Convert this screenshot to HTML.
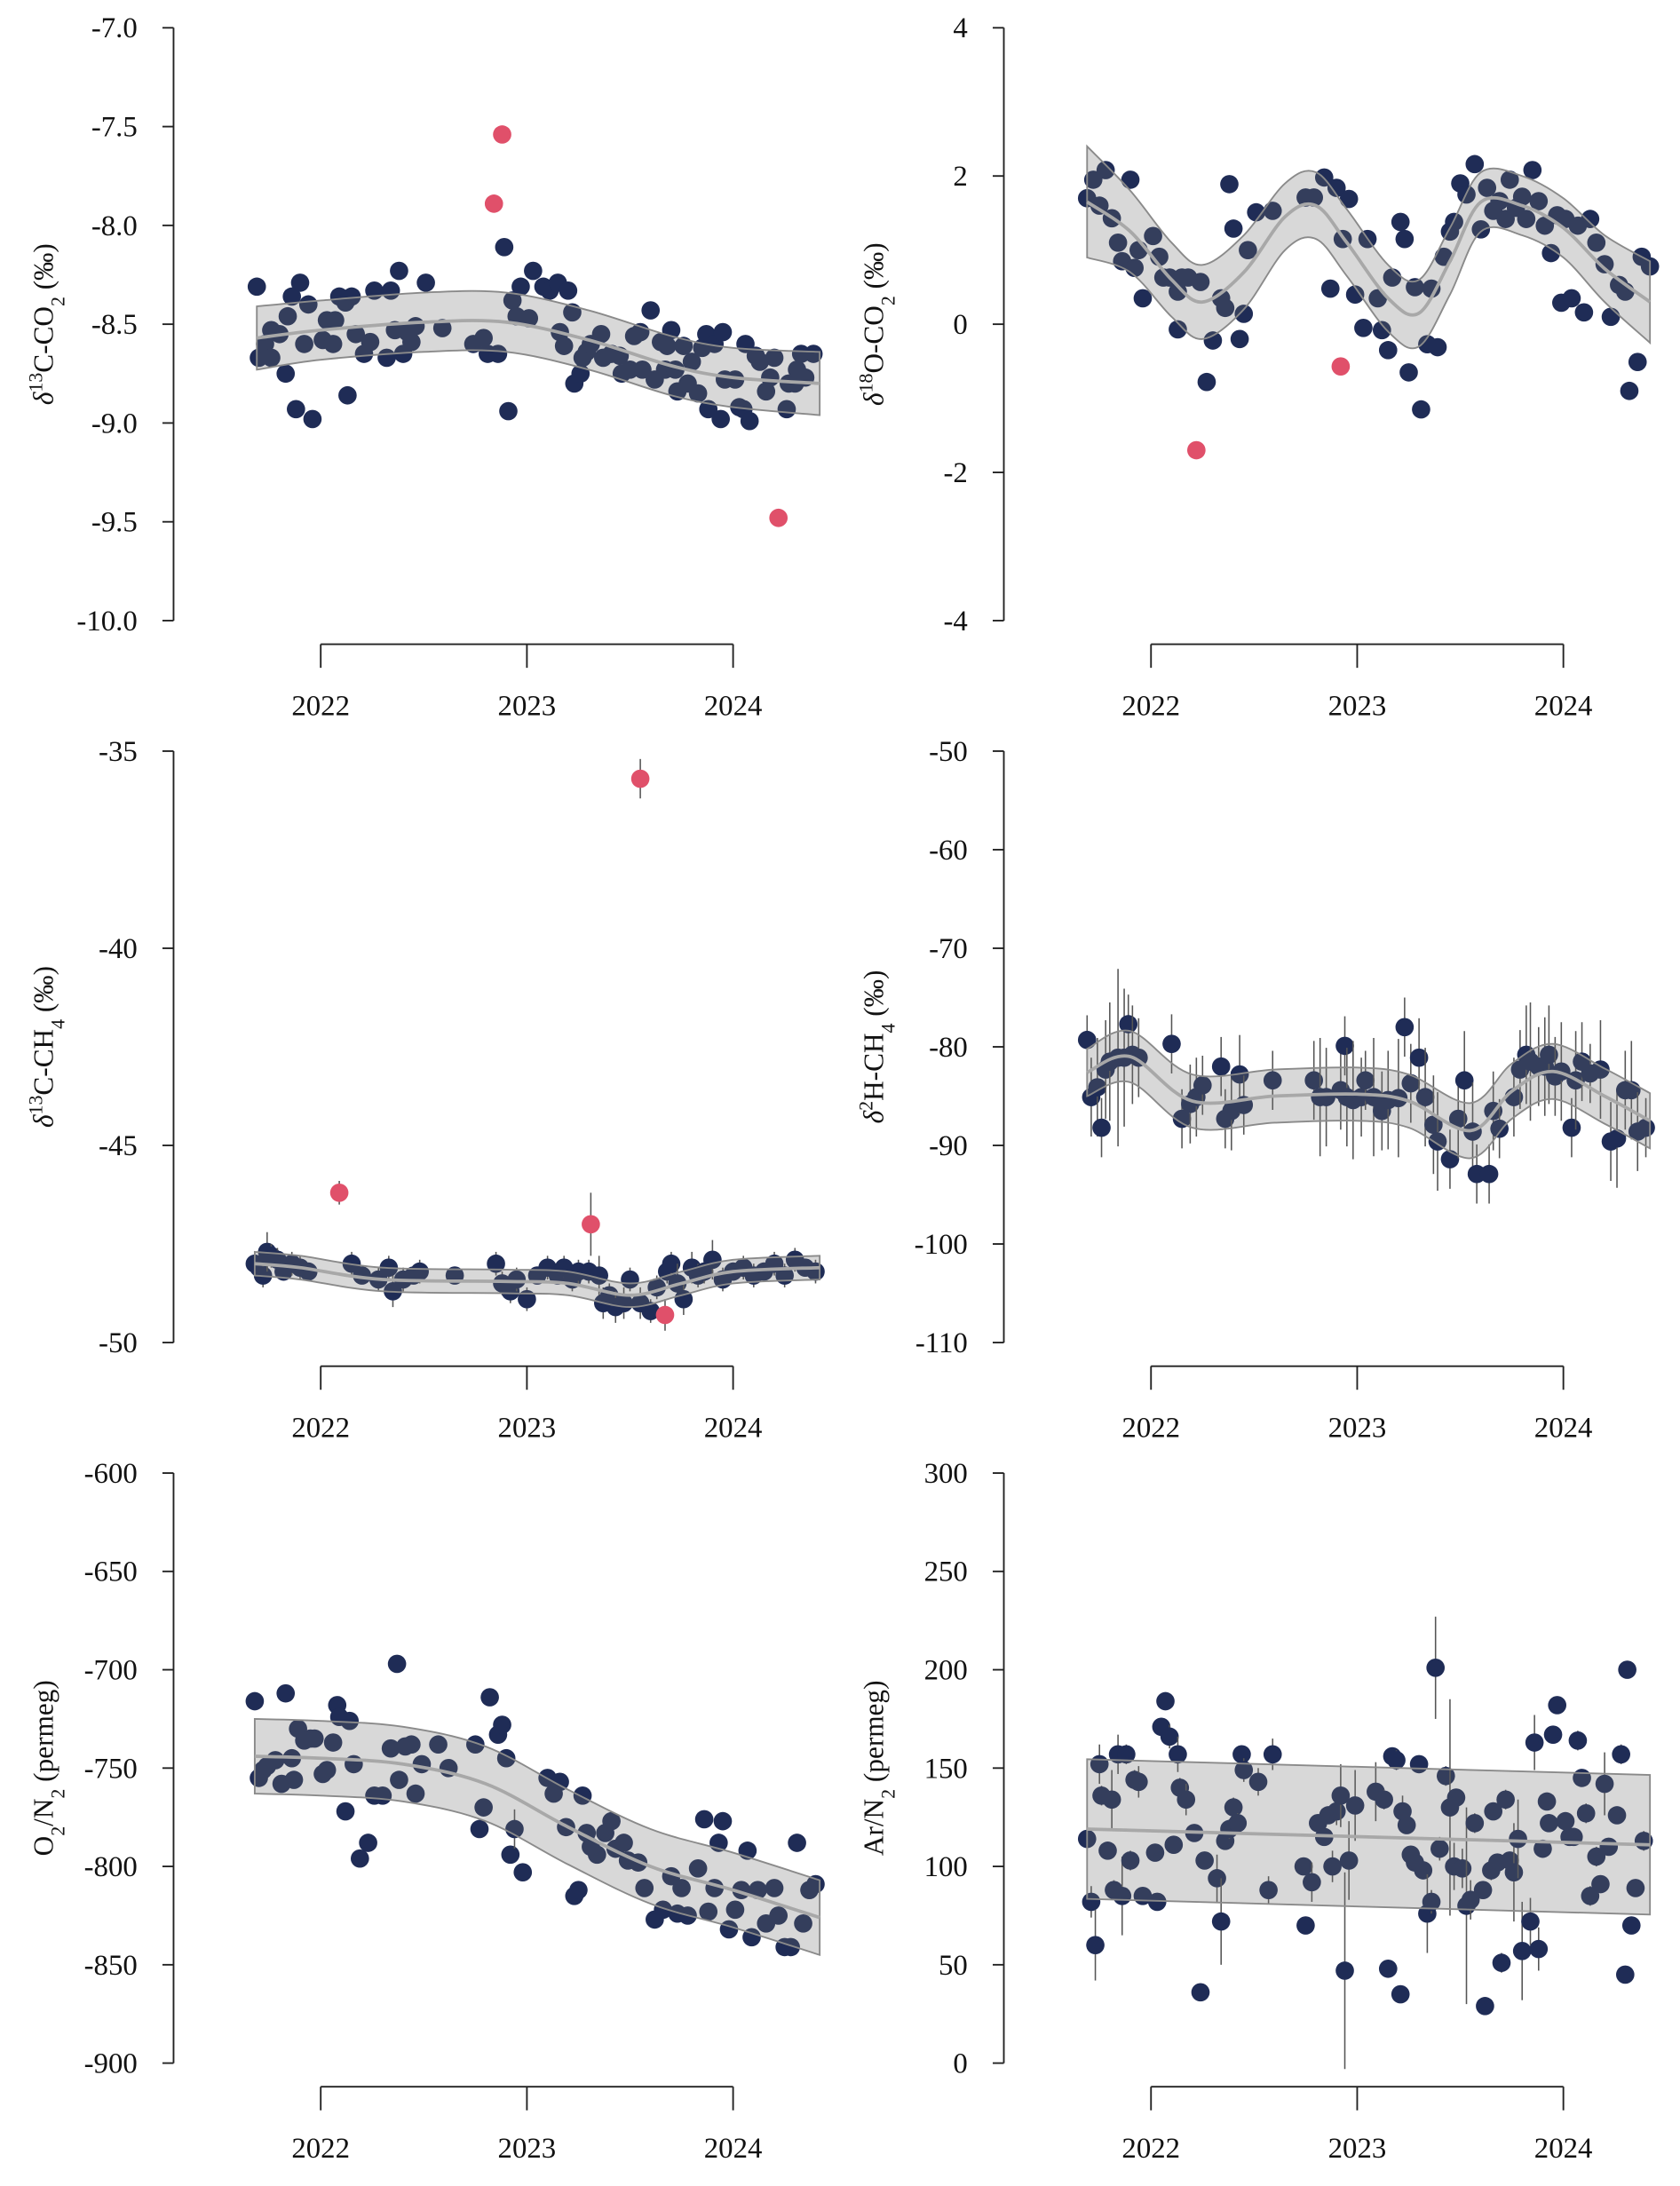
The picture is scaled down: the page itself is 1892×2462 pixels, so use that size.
<!DOCTYPE html>
<html><head><meta charset="utf-8">
<style>
html,body{margin:0;padding:0;background:#fff;}
svg{display:block;}
text{font-family:"Liberation Serif",serif;fill:#111;}
</style></head>
<body>
<svg id="fig" width="1892" height="2462" viewBox="0 0 1210 1574.5" xmlns="http://www.w3.org/2000/svg"></svg>
<script>
// ---------- Panel 1: d13C-CO2 ----------
const p1Years=[2021.69,2021.70,2021.73,2021.76,2021.76,2021.80,2021.83,2021.84,2021.86,2021.88,2021.90,2021.92,2021.94,2021.96,2022.01,2022.03,2022.06,2022.07,2022.09,2022.12,2022.13,2022.15,2022.17,2022.21,2022.24,2022.26,2022.32,2022.34,2022.36,2022.38,2022.40,2022.42,2022.44,2022.46,2022.51,2022.59,2022.74,2022.79,2022.81,2022.86,2022.89,2022.91,2022.93,2022.95,2022.97,2023.01,2023.03,2023.08,2023.11,2023.15,2023.20,2023.22,2023.16,2023.18,2023.23,2023.26,2023.27,2023.29,2023.31,2023.36,2023.37,2023.41,2023.45,2023.46,2023.50,2023.52,2023.55,2023.56,2023.60,2023.62,2023.65,2023.67,2023.68,2023.70,2023.72,2023.73,2023.76,2023.78,2023.80,2023.83,2023.85,2023.87,2023.88,2023.91,2023.94,2023.95,2023.96,2024.01,2024.03,2024.05,2024.06,2024.08,2024.11,2024.13,2024.16,2024.18,2024.20,2024.26,2024.27,2024.30,2024.31,2024.33,2024.35,2024.39];
const p1Vals=[-8.31,-8.67,-8.60,-8.67,-8.53,-8.55,-8.75,-8.46,-8.36,-8.93,-8.29,-8.60,-8.40,-8.98,-8.58,-8.48,-8.60,-8.48,-8.36,-8.39,-8.86,-8.36,-8.55,-8.65,-8.59,-8.33,-8.67,-8.33,-8.53,-8.23,-8.65,-8.54,-8.59,-8.51,-8.29,-8.52,-8.60,-8.57,-8.65,-8.65,-8.11,-8.94,-8.38,-8.46,-8.31,-8.47,-8.23,-8.31,-8.33,-8.29,-8.33,-8.44,-8.54,-8.61,-8.80,-8.75,-8.67,-8.64,-8.60,-8.55,-8.67,-8.65,-8.66,-8.75,-8.73,-8.56,-8.54,-8.73,-8.43,-8.78,-8.59,-8.73,-8.61,-8.53,-8.73,-8.84,-8.61,-8.80,-8.69,-8.85,-8.62,-8.55,-8.93,-8.60,-8.98,-8.54,-8.78,-8.78,-8.92,-8.93,-8.60,-8.99,-8.66,-8.69,-8.84,-8.77,-8.67,-8.93,-8.80,-8.80,-8.73,-8.65,-8.77,-8.65];
const p1OutYears=[2022.84,2022.88,2024.22];
const p1OutVals=[-7.89,-7.54,-9.48];
const p1KnotYears=[2021.69,2022.0,2022.5,2022.9,2023.3,2023.7,2024.0,2024.42];
const p1KnotMean=[-8.57,-8.53,-8.49,-8.49,-8.58,-8.71,-8.77,-8.80];
const p1KnotHw=[0.16,0.15,0.15,0.15,0.15,0.15,0.15,0.16];
const p1Ticks=[-7.0,-7.5,-8.0,-8.5,-9.0,-9.5,-10.0];
const p1TickLabels=["-7.0","-7.5","-8.0","-8.5","-9.0","-9.5","-10.0"];

// ---------- Panel 2: d18O-CO2 ----------
const p2Years=[2021.69,2021.72,2021.75,2021.78,2021.81,2021.84,2021.86,2021.90,2021.92,2021.94,2021.96,2022.01,2022.04,2022.06,2022.09,2022.13,2022.15,2022.13,2022.18,2022.24,2022.27,2022.30,2022.34,2022.36,2022.38,2022.40,2022.43,2022.45,2022.47,2022.51,2022.59,2022.75,2022.79,2022.84,2022.87,2022.90,2022.93,2022.96,2022.99,2023.03,2023.05,2023.10,2023.12,2023.15,2023.17,2023.21,2023.23,2023.25,2023.28,2023.31,2023.34,2023.36,2023.39,2023.42,2023.45,2023.47,2023.50,2023.53,2023.57,2023.60,2023.63,2023.66,2023.69,2023.72,2023.74,2023.77,2023.80,2023.82,2023.85,2023.88,2023.91,2023.94,2023.97,2023.99,2024.01,2024.04,2024.07,2024.10,2024.13,2024.16,2024.20,2024.23,2024.27,2024.30,2024.32,2024.36,2024.38,2024.42];
const p2Vals=[1.70,1.95,1.60,2.08,1.43,1.10,0.85,1.95,0.76,1.00,0.35,1.19,0.91,0.63,0.63,0.44,0.63,-0.07,0.63,0.57,-0.78,-0.22,0.35,0.22,1.89,1.29,-0.20,0.14,1.00,1.51,1.53,1.71,1.71,1.98,0.48,1.84,1.15,1.69,0.40,-0.05,1.15,0.35,-0.08,-0.35,0.63,1.38,1.15,-0.65,0.50,-1.15,-0.27,0.48,-0.31,0.91,1.25,1.38,1.90,1.75,2.16,1.28,1.84,1.53,1.66,1.42,1.95,1.57,1.72,1.42,2.08,1.66,1.33,0.96,1.47,0.29,1.42,0.35,1.33,0.16,1.42,1.10,0.81,0.10,0.53,0.44,-0.90,-0.51,0.91,0.78];
const p2OutYears=[2022.22,2022.92];
const p2OutVals=[-1.70,-0.57];
const p2KnotYears=[2021.69,2021.9,2022.1,2022.25,2022.45,2022.65,2022.8,2022.95,2023.15,2023.3,2023.45,2023.6,2023.8,2024.0,2024.2,2024.42];
const p2KnotMean=[1.65,1.25,0.6,0.3,0.7,1.45,1.6,1.1,0.35,0.15,0.85,1.65,1.6,1.3,0.75,0.3];
const p2KnotHw=[0.75,0.55,0.5,0.5,0.5,0.45,0.45,0.45,0.45,0.45,0.45,0.4,0.4,0.4,0.45,0.55];
const p2Ticks=[4,2,0,-2,-4];
const p2TickLabels=["4","2","0","-2","-4"];

// ---------- Panel 3: d13C-CH4 ----------
const p3Years=[2021.68,2021.70,2021.72,2021.74,2021.76,2021.79,2021.82,2021.86,2021.90,2021.94,2022.15,2022.20,2022.28,2022.33,2022.35,2022.40,2022.45,2022.48,2022.65,2022.85,2022.88,2022.92,2022.95,2023.00,2023.05,2023.10,2023.15,2023.18,2023.22,2023.25,2023.30,2023.35,2023.37,2023.40,2023.43,2023.47,2023.50,2023.55,2023.60,2023.63,2023.68,2023.70,2023.73,2023.76,2023.80,2023.83,2023.86,2023.90,2023.95,2024.00,2024.05,2024.10,2024.15,2024.20,2024.25,2024.30,2024.35,2024.40];
const p3Vals=[-48.0,-48.1,-48.3,-47.7,-47.8,-47.9,-48.2,-48.0,-48.1,-48.2,-48.0,-48.3,-48.4,-48.1,-48.7,-48.4,-48.3,-48.2,-48.3,-48.0,-48.5,-48.7,-48.4,-48.9,-48.3,-48.1,-48.3,-48.1,-48.4,-48.2,-48.2,-48.3,-49.0,-48.8,-49.1,-49.0,-48.4,-49.0,-49.2,-48.6,-48.2,-48.0,-48.5,-48.9,-48.1,-48.3,-48.2,-47.9,-48.4,-48.2,-48.1,-48.3,-48.2,-48.0,-48.3,-47.9,-48.1,-48.2];
const p3Err=[0.3,0.2,0.3,0.5,0.3,0.3,0.2,0.3,0.3,0.2,0.3,0.2,0.3,0.3,0.4,0.3,0.2,0.3,0.2,0.3,0.3,0.3,0.3,0.3,0.2,0.3,0.2,0.3,0.3,0.3,0.3,0.5,0.4,0.3,0.4,0.4,0.3,0.4,0.3,0.3,0.3,0.3,0.5,0.4,0.4,0.3,0.3,0.5,0.3,0.2,0.3,0.3,0.2,0.3,0.3,0.3,0.2,0.3];
const p3OutYears=[2022.09,2023.31,2023.55,2023.67];
const p3OutVals=[-46.2,-47.0,-35.7,-49.3];
const p3OutErr=[0.3,0.8,0.5,0.4];
const p3KnotYears=[2021.68,2021.9,2022.3,2022.9,2023.2,2023.5,2023.75,2024.0,2024.42];
const p3KnotMean=[-48.0,-48.1,-48.4,-48.45,-48.5,-48.8,-48.5,-48.2,-48.1];
const p3KnotHw=[0.3,0.3,0.3,0.3,0.3,0.3,0.3,0.3,0.3];
const p3Ticks=[-35,-40,-45,-50];
const p3TickLabels=["-35","-40","-45","-50"];

// ---------- Panel 4: d2H-CH4 ----------
const p4Years=[2021.69,2021.71,2021.74,2021.76,2021.78,2021.80,2021.84,2021.87,2021.89,2021.91,2021.94,2022.10,2022.15,2022.19,2022.22,2022.25,2022.34,2022.36,2022.39,2022.43,2022.45,2022.59,2022.79,2022.82,2022.85,2022.92,2022.94,2022.95,2022.98,2023.02,2023.04,2023.08,2023.12,2023.15,2023.20,2023.23,2023.26,2023.30,2023.33,2023.37,2023.39,2023.45,2023.49,2023.52,2023.56,2023.58,2023.64,2023.66,2023.69,2023.76,2023.79,2023.82,2023.84,2023.88,2023.91,2023.93,2023.96,2023.99,2024.04,2024.06,2024.09,2024.13,2024.18,2024.23,2024.26,2024.30,2024.33,2024.36,2024.40];
const p4Vals=[-79.3,-85.1,-84.1,-88.2,-82.3,-81.5,-81.1,-81.1,-77.7,-80.8,-81.1,-79.7,-87.3,-85.8,-85.1,-83.9,-82.0,-87.3,-86.5,-82.8,-85.9,-83.4,-83.4,-85.1,-85.1,-84.4,-79.9,-85.1,-85.4,-85.1,-83.4,-85.1,-86.5,-85.4,-85.2,-78.0,-83.7,-81.1,-85.1,-87.9,-89.6,-91.4,-87.3,-83.4,-88.6,-92.9,-92.9,-86.5,-88.3,-85.1,-82.3,-80.8,-81.5,-82.0,-82.0,-80.8,-83.0,-82.5,-88.2,-83.4,-81.5,-82.7,-82.3,-89.6,-89.3,-84.4,-84.4,-88.6,-88.2];
const p4Err=[2.5,4,5,3,5,6,9,7,3,5,4,3,3,4,4,3,3,3,4,4,3,3,4,6,5,4,3,5,6,4,3,6,4,5,6,3,4,4,5,5,5,3,4,5,5,3,3,4,3,4,4,5,6,4,5,5,4,5,3,5,4,3,5,4,5,4,5,4,3];
const p4KnotYears=[2021.69,2021.9,2022.2,2022.6,2023.0,2023.25,2023.55,2023.75,2023.95,2024.2,2024.42];
const p4KnotMean=[-82.6,-81.0,-85.5,-85.0,-84.8,-85.5,-88.5,-84.5,-82.5,-85.0,-87.5];
const p4KnotHw=[2.4,2.6,2.7,2.7,2.7,2.7,2.8,2.8,2.8,2.8,2.8];
const p4Ticks=[-50,-60,-70,-80,-90,-100,-110];
const p4TickLabels=["-50","-60","-70","-80","-90","-100","-110"];

// ---------- Panel 5: O2/N2 ----------
const p5Years=[2021.68,2021.70,2021.72,2021.74,2021.78,2021.81,2021.83,2021.86,2021.87,2021.89,2021.92,2021.95,2021.97,2022.01,2022.03,2022.06,2022.08,2022.09,2022.12,2022.14,2022.16,2022.19,2022.23,2022.26,2022.30,2022.34,2022.37,2022.38,2022.41,2022.44,2022.46,2022.49,2022.57,2022.62,2022.75,2022.77,2022.79,2022.82,2022.86,2022.88,2022.90,2022.92,2022.94,2022.98,2023.10,2023.13,2023.16,2023.19,2023.23,2023.25,2023.27,2023.29,2023.31,2023.34,2023.38,2023.41,2023.43,2023.47,2023.49,2023.54,2023.57,2023.62,2023.66,2023.70,2023.73,2023.75,2023.78,2023.83,2023.86,2023.88,2023.91,2023.93,2023.95,2023.98,2024.01,2024.04,2024.07,2024.09,2024.12,2024.16,2024.20,2024.22,2024.25,2024.28,2024.31,2024.34,2024.37,2024.40];
const p5Vals=[-716,-755,-751,-749,-746,-758,-712,-745,-756,-730,-736,-735,-735,-753,-751,-737,-718,-724,-772,-726,-748,-796,-788,-764,-764,-740,-697,-756,-739,-738,-763,-748,-738,-750,-738,-781,-770,-714,-733,-728,-745,-794,-781,-803,-755,-763,-757,-780,-815,-812,-764,-783,-790,-794,-783,-777,-791,-788,-797,-798,-811,-827,-822,-805,-824,-811,-825,-801,-776,-823,-811,-788,-777,-832,-822,-812,-792,-836,-812,-829,-811,-825,-841,-841,-788,-829,-812,-809];
const p5Err=[2,3,2,2,2,2,2,3,2,3,2,2,2,3,2,3,2,2,2,3,2,2,3,2,2,2,2,2,2,2,3,2,2,2,2,2,2,2,3,2,3,2,10,2,2,2,3,2,2,2,2,2,2,2,2,3,2,2,2,2,2,2,2,3,2,2,2,2,3,2,2,2,2,2,2,3,2,2,2,2,2,2,2,2,2,2,2,2];
const p5KnotYears=[2021.68,2022.0,2022.4,2022.8,2023.2,2023.6,2024.0,2024.42];
const p5KnotMean=[-744,-745,-748,-758,-780,-800,-812,-826];
const p5KnotHw=[19,19,19,19,19,19,19,19];
const p5Ticks=[-600,-650,-700,-750,-800,-850,-900];
const p5TickLabels=["-600","-650","-700","-750","-800","-850","-900"];

// ---------- Panel 6: Ar/N2 ----------
const p6Years=[2021.69,2021.71,2021.73,2021.75,2021.76,2021.79,2021.81,2021.82,2021.84,2021.86,2021.88,2021.90,2021.92,2021.94,2021.96,2022.02,2022.03,2022.05,2022.07,2022.09,2022.11,2022.13,2022.14,2022.17,2022.21,2022.24,2022.26,2022.32,2022.34,2022.36,2022.38,2022.40,2022.42,2022.44,2022.45,2022.52,2022.57,2022.59,2022.74,2022.75,2022.78,2022.81,2022.84,2022.86,2022.88,2022.90,2022.92,2022.94,2022.96,2022.99,2023.09,2023.13,2023.15,2023.17,2023.19,2023.21,2023.22,2023.24,2023.26,2023.28,2023.30,2023.32,2023.34,2023.36,2023.38,2023.40,2023.43,2023.45,2023.47,2023.48,2023.51,2023.53,2023.55,2023.57,2023.61,2023.62,2023.65,2023.66,2023.68,2023.70,2023.72,2023.74,2023.76,2023.78,2023.80,2023.84,2023.86,2023.88,2023.90,2023.92,2023.93,2023.95,2023.97,2024.01,2024.03,2024.05,2024.07,2024.09,2024.11,2024.13,2024.16,2024.18,2024.20,2024.22,2024.26,2024.28,2024.30,2024.31,2024.33,2024.35,2024.39];
const p6Vals=[114,82,60,152,136,108,134,88,157,85,157,103,144,143,85,107,82,171,184,166,111,157,140,134,117,36,103,94,72,113,119,130,122,157,149,143,88,157,100,70,92,122,115,126,100,128,136,47,103,131,138,134,48,156,154,35,128,121,106,102,152,98,76,82,201,109,146,130,100,135,99,80,83,122,88,29,98,128,102,51,134,103,97,114,57,72,163,58,109,133,122,167,182,123,115,115,164,145,127,85,105,91,142,110,126,157,45,200,70,89,113];
const p6Err=[6,8,18,10,5,4,15,5,10,20,5,5,5,8,4,4,4,4,4,6,4,9,5,8,4,3,4,12,22,4,5,5,5,4,6,7,7,8,4,2,10,4,4,4,8,7,16,50,20,18,15,5,3,4,5,3,8,4,4,4,3,4,20,6,26,6,5,55,12,4,10,50,10,5,4,3,5,4,4,5,5,4,25,20,25,12,14,11,4,4,4,3,4,4,4,3,5,4,5,5,5,4,16,4,4,5,4,3,4,4,5];
const p6KnotYears=[2021.69,2024.42];
const p6KnotMean=[119,111];
const p6KnotHw=[35.5,35.5];
const p6Ticks=[300,250,200,150,100,50,0];
const p6TickLabels=["300","250","200","150","100","50","0"];

const xTickYears=[2022,2023,2024];
const xTickLabels=["2022","2023","2024"];

// ---------------- drawing ----------------
const NS="http://www.w3.org/2000/svg";
const svg=document.getElementById('fig');
function el(tag,attrs,parent){const e=document.createElementNS(NS,tag);for(const k in attrs)e.setAttribute(k,attrs[k]);(parent||svg).appendChild(e);return e;}

const PCOL="#1f2c56", RCOL="#e0506a";

function smoothPath(pts){
  let d="M"+pts[0][0].toFixed(2)+","+pts[0][1].toFixed(2);
  if(pts.length===2){return d+" L"+pts[1][0].toFixed(2)+","+pts[1][1].toFixed(2);}
  for(let i=0;i<pts.length-1;i++){
    const p0=pts[Math.max(i-1,0)],p1=pts[i],p2=pts[i+1],p3=pts[Math.min(i+2,pts.length-1)];
    const c1=[p1[0]+(p2[0]-p0[0])/6,p1[1]+(p2[1]-p0[1])/6];
    const c2=[p2[0]-(p3[0]-p1[0])/6,p2[1]-(p3[1]-p1[1])/6];
    d+=" C"+c1[0].toFixed(2)+","+c1[1].toFixed(2)+" "+c2[0].toFixed(2)+","+c2[1].toFixed(2)+" "+p2[0].toFixed(2)+","+p2[1].toFixed(2);
  }
  return d;
}
function revPath(pts){
  const r=pts.slice().reverse();
  const d=smoothPath(r);
  return " L"+d.slice(1);
}

function panel(cfg){
  const g=el('g',{});
  
  
  const vmax=cfg.ticks[0], vmin=cfg.ticks[cfg.ticks.length-1];
  const ys=v=>cfg.top+(vmax-v)/(vmax-vmin)*(cfg.bottom-cfg.top);
  const xs=t=>cfg.x2022+(t-2022)*148.5;

  const ya=el('g',{},g);
  
  
  el('line',{x1:cfg.yAxisX,x2:cfg.yAxisX,y1:cfg.top,y2:cfg.bottom,stroke:'#222','stroke-width':1.2},ya);
  cfg.ticks.forEach((v,i)=>{
    el('line',{x1:cfg.yAxisX-8,x2:cfg.yAxisX,y1:ys(v),y2:ys(v),stroke:'#222','stroke-width':1.2},ya);
    const t=el('text',{x:cfg.yAxisX-26,y:ys(v)+7,'text-anchor':'end','font-size':21},ya);
    t.textContent=cfg.tickLabels[i];
    
    
  });
  const xa=el('g',{},g);
  
  
  el('line',{x1:xs(xTickYears[0]),x2:xs(xTickYears[xTickYears.length-1]),y1:cfg.xAxisY,y2:cfg.xAxisY,stroke:'#222','stroke-width':1.2},xa);
  xTickYears.forEach((yr,i)=>{
    el('line',{x1:xs(yr),x2:xs(yr),y1:cfg.xAxisY,y2:cfg.xAxisY+17,stroke:'#222','stroke-width':1.2},xa);
    const t=el('text',{x:xs(yr),y:cfg.xAxisY+51,'text-anchor':'middle','font-size':21},xa);
    t.textContent=xTickLabels[i];
    
    
  });
  const tt=el('text',{transform:`translate(${cfg.titleX},${(cfg.top+cfg.bottom)/2}) rotate(-90)`,'text-anchor':'middle','font-size':20},g);
  tt.innerHTML=cfg.title;
  
  

  const pg=el('g',{},g);
  
  
  const n=Math.min(cfg.years.length,cfg.vals.length);
  for(let i=0;i<n;i++){
    const cx=xs(cfg.years[i]), cy=ys(cfg.vals[i]);
    if(cfg.err){const e=cfg.err[i]||0;
      const l=el('line',{x1:cx,x2:cx,y1:ys(cfg.vals[i]+e),y2:ys(cfg.vals[i]-e),stroke:'#555','stroke-width':1},pg);
      
      
    }
    const c=el('circle',{cx:cx,cy:cy,r:6.6,fill:PCOL},pg);
    
    
  }
  if(cfg.outYears){
    for(let i=0;i<cfg.outYears.length;i++){
      const cx=xs(cfg.outYears[i]), cy=ys(cfg.outVals[i]);
      if(cfg.outErr){
        const l=el('line',{x1:cx,x2:cx,y1:ys(cfg.outVals[i]+cfg.outErr[i]),y2:ys(cfg.outVals[i]-cfg.outErr[i]),stroke:'#555','stroke-width':1},pg);
        
        
      }
      const c=el('circle',{cx:cx,cy:cy,r:6.6,fill:RCOL},pg);
      
      
    }
  }
  const up=[],lo=[],mid=[];
  for(let i=0;i<cfg.kYears.length;i++){
    const x=xs(cfg.kYears[i]);
    up.push([x,ys(cfg.kMean[i]+cfg.kHw[i])]);
    lo.push([x,ys(cfg.kMean[i]-cfg.kHw[i])]);
    mid.push([x,ys(cfg.kMean[i])]);
  }
  const band=el('path',{d:smoothPath(up)+revPath(lo)+" Z",fill:'rgba(110,110,110,0.27)',stroke:'#8a8a8a','stroke-width':1.2},g);
  
  
  const ml=el('path',{d:smoothPath(mid),fill:'none',stroke:'#a8a8a8','stroke-width':2.4},g);
  
  
}

const L={yAxisX:125,x2022:231,titleX:38};
const R={yAxisX:723,x2022:829,titleX:636};
panel(Object.assign({},L,{name:'panel-d13c-co2',top:20,bottom:447,xAxisY:464,ticks:p1Ticks,tickLabels:p1TickLabels,
  title:'<tspan font-style="italic">δ</tspan><tspan baseline-shift="super" font-size="14">13</tspan>C-CO<tspan baseline-shift="sub" font-size="14">2</tspan> (‰)',
  years:p1Years,vals:p1Vals,outYears:p1OutYears,outVals:p1OutVals,kYears:p1KnotYears,kMean:p1KnotMean,kHw:p1KnotHw}));
panel(Object.assign({},R,{name:'panel-d18o-co2',top:20,bottom:447,xAxisY:464,ticks:p2Ticks,tickLabels:p2TickLabels,
  title:'<tspan font-style="italic">δ</tspan><tspan baseline-shift="super" font-size="14">18</tspan>O-CO<tspan baseline-shift="sub" font-size="14">2</tspan> (‰)',
  years:p2Years,vals:p2Vals,outYears:p2OutYears,outVals:p2OutVals,kYears:p2KnotYears,kMean:p2KnotMean,kHw:p2KnotHw}));
panel(Object.assign({},L,{name:'panel-d13c-ch4',top:541,bottom:967,xAxisY:984,ticks:p3Ticks,tickLabels:p3TickLabels,
  title:'<tspan font-style="italic">δ</tspan><tspan baseline-shift="super" font-size="14">13</tspan>C-CH<tspan baseline-shift="sub" font-size="14">4</tspan> (‰)',
  years:p3Years,vals:p3Vals,err:p3Err,outYears:p3OutYears,outVals:p3OutVals,outErr:p3OutErr,kYears:p3KnotYears,kMean:p3KnotMean,kHw:p3KnotHw}));
panel(Object.assign({},R,{name:'panel-d2h-ch4',top:541,bottom:967,xAxisY:984,ticks:p4Ticks,tickLabels:p4TickLabels,
  title:'<tspan font-style="italic">δ</tspan><tspan baseline-shift="super" font-size="14">2</tspan>H-CH<tspan baseline-shift="sub" font-size="14">4</tspan> (‰)',
  years:p4Years,vals:p4Vals,err:p4Err,kYears:p4KnotYears,kMean:p4KnotMean,kHw:p4KnotHw}));
panel(Object.assign({},L,{name:'panel-o2-n2',top:1061,bottom:1486,xAxisY:1503,ticks:p5Ticks,tickLabels:p5TickLabels,
  title:'O<tspan baseline-shift="sub" font-size="14">2</tspan>/N<tspan baseline-shift="sub" font-size="14">2</tspan> (permeg)',
  years:p5Years,vals:p5Vals,err:p5Err,kYears:p5KnotYears,kMean:p5KnotMean,kHw:p5KnotHw}));
panel(Object.assign({},R,{name:'panel-ar-n2',top:1061,bottom:1486,xAxisY:1503,ticks:p6Ticks,tickLabels:p6TickLabels,
  title:'Ar/N<tspan baseline-shift="sub" font-size="14">2</tspan> (permeg)',
  years:p6Years,vals:p6Vals,err:p6Err,kYears:p6KnotYears,kMean:p6KnotMean,kHw:p6KnotHw}));
</script>
</body></html>
